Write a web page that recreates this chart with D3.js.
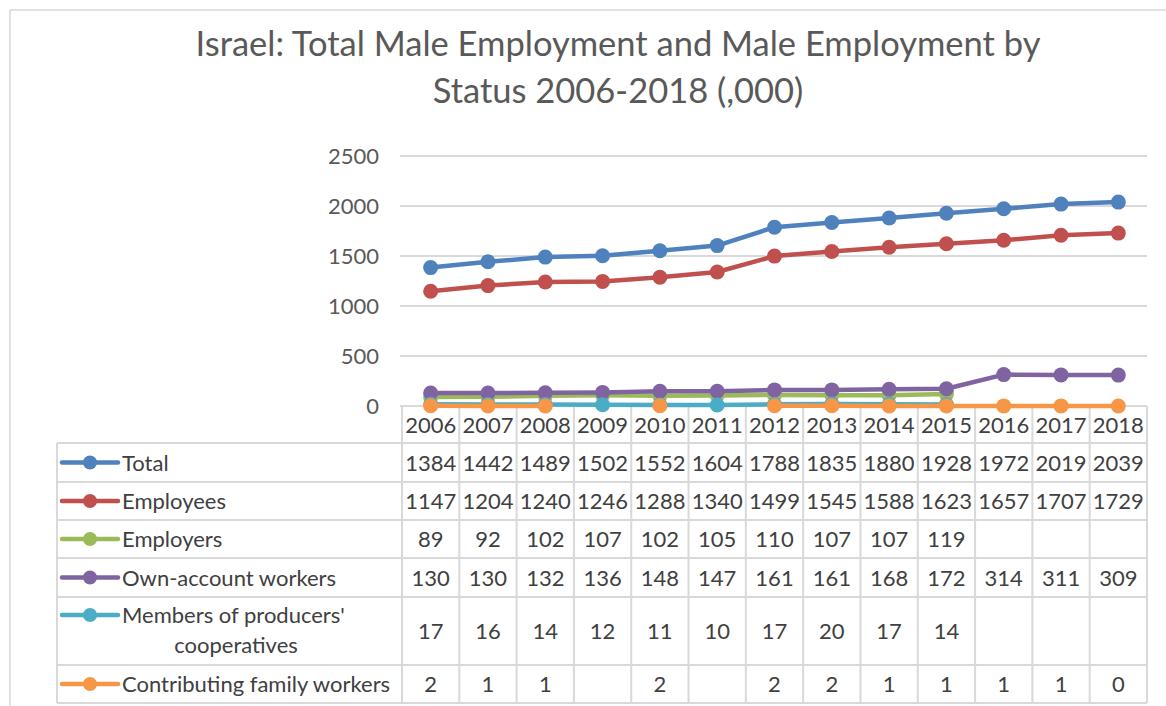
<!DOCTYPE html>
<html><head><meta charset="utf-8">
<script src="https://cdn.jsdelivr.net/npm/d3@7"></script>
<style>body{margin:0;background:#fff} text{font-family:Lato, "Open Sans", sans-serif}</style>
</head><body><svg id="c" width="1166" height="706"></svg>
<script>
const years = ["2006","2007","2008","2009","2010","2011","2012","2013","2014","2015","2016","2017","2018"];
const total = [1384,1442,1489,1502,1552,1604,1788,1835,1880,1928,1972,2019,2039];
const employees = [1147,1204,1240,1246,1288,1340,1499,1545,1588,1623,1657,1707,1729];
const employers = [89,92,102,107,102,105,110,107,107,119,null,null,null];
const ownAccount = [130,130,132,136,148,147,161,161,168,172,314,311,309];
const members = [17,16,14,12,11,10,17,20,17,14,null,null,null];
const contributing = [2,1,1,null,2,null,2,2,1,1,1,1,0];
const seriesNames = ["Total","Employees","Employers","Own-account workers","Members of producers' cooperatives","Contributing family workers"];
const seriesValues = [total, employees, employers, ownAccount, members, contributing];
const colors = ["#4f81bd","#c0504d","#9bbb59","#8064a2","#4bacc6","#f79646"];
const yTicks = [0,500,1000,1500,2000,2500];
const title = ["Israel: Total Male Employment and Male Employment by","Status 2006-2018 (,000)"];

const svg = d3.select("#c");
const grid = "#d9d9d9";
const FS = 22;
// outer border
svg.append("line").attr("x1",10).attr("x2",1166).attr("y1",10).attr("y2",10).attr("stroke",grid).attr("stroke-width",1.5);
svg.append("line").attr("x1",10).attr("x2",10).attr("y1",10).attr("y2",706).attr("stroke",grid).attr("stroke-width",1.5);

// title
svg.append("text").attr("text-anchor","middle").attr("fill","#595959").attr("font-size",34.5)
  .selectAll("tspan").data(title).join("tspan").attr("x",618).attr("y",(d,i)=>56+i*47).text(d=>d);

const x = d3.scaleBand().domain(years).range([402,1147]);
const y = d3.scaleLinear().domain([0,2500]).range([406,156]);
const cx = d => x(d) + x.bandwidth()/2;

// gridlines
svg.append("g").selectAll("line").data(yTicks.filter(t=>t>0)).join("line")
  .attr("x1",400).attr("x2",1147).attr("y1",d=>y(d)).attr("y2",d=>y(d)).attr("stroke",grid).attr("stroke-width",2);
// y axis labels
const yAxis = d3.axisLeft(y).tickValues(yTicks).tickFormat(d3.format("d")).tickSize(0).tickPadding(0);
const ga = svg.append("g").attr("transform","translate(379,0)").call(yAxis);
ga.select(".domain").remove();
ga.selectAll("text").attr("font-size",FS).attr("fill","#595959").attr("font-family","Lato, sans-serif");

// table
const rows = [406,443,482,520,558,597,665,703];
const tg = svg.append("g");
rows.forEach((r,i)=>{
  tg.append("line").attr("x1", i===0?400:57).attr("x2",1147).attr("y1",r).attr("y2",r).attr("stroke",grid).attr("stroke-width",2);
});
tg.append("line").attr("x1",57).attr("x2",57).attr("y1",443).attr("y2",703).attr("stroke",grid).attr("stroke-width",2);
years.forEach(yr=>{
  tg.append("line").attr("x1",x(yr)).attr("x2",x(yr)).attr("y1",406).attr("y2",703).attr("stroke",grid).attr("stroke-width",2);
});
tg.append("line").attr("x1",1147).attr("x2",1147).attr("y1",406).attr("y2",703).attr("stroke",grid).attr("stroke-width",2);
tg.selectAll("text.yr").data(years).join("text").attr("class","yr")
  .attr("x",d=>cx(d)).attr("y",(rows[0]+rows[1])/2+8).attr("text-anchor","middle")
  .attr("font-size",FS).attr("fill","#404040").text(d=>d);
seriesValues.forEach((vals,si)=>{
  const top = rows[si+1], bot = rows[si+2], mid = (top+bot)/2;
  const g = tg.append("g");
  g.selectAll("text").data(vals.map((v,i)=>({v,yr:years[i]})).filter(d=>d.v!==null)).join("text")
    .attr("x",d=>cx(d.yr)).attr("y",mid+8).attr("text-anchor","middle")
    .attr("font-size",FS).attr("fill","#404040").text(d=>d.v);
  const ly = si===4 ? top+18 : mid;
  g.append("line").attr("x1",62).attr("x2",118).attr("y1",ly).attr("y2",ly).attr("stroke",colors[si]).attr("stroke-width",4.5).attr("stroke-linecap","round");
  g.append("circle").attr("cx",90).attr("cy",ly).attr("r",7).attr("fill",colors[si]);
  if (si===4) {
    g.append("text").attr("x",122).attr("y",ly+8).attr("font-size",FS).attr("fill","#404040").text("Members of producers'");
    g.append("text").attr("x",236).attr("y",ly+38).attr("text-anchor","middle").attr("font-size",FS).attr("fill","#404040").text("cooperatives");
  } else {
    g.append("text").attr("x",122).attr("y",ly+8).attr("font-size",FS).attr("fill","#404040").text(seriesNames[si]);
  }
});

// series
const line = d3.line().defined(d=>d.v!==null).x(d=>cx(d.yr)).y(d=>y(d.v));
seriesValues.forEach((vals,si)=>{
  const data = vals.map((v,i)=>({v,yr:years[i]}));
  const g = svg.append("g");
  g.append("path").datum(data).attr("d",line).attr("fill","none").attr("stroke",colors[si]).attr("stroke-width",4.5).attr("stroke-linejoin","round");
  g.selectAll("circle").data(data.filter(d=>d.v!==null)).join("circle")
    .attr("cx",d=>cx(d.yr)).attr("cy",d=>y(d.v)).attr("r",7.5).attr("fill",colors[si]);
});
</script></body></html>
